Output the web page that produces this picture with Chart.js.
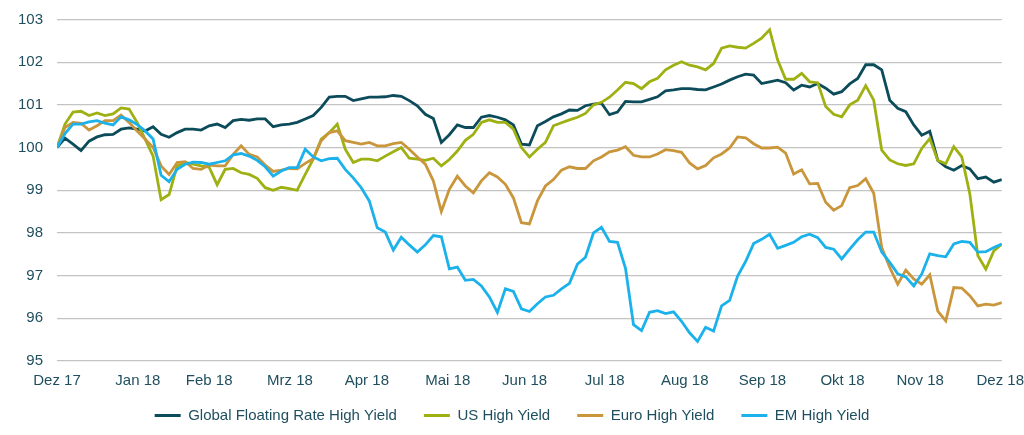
<!DOCTYPE html>
<html>
<head>
<meta charset="utf-8">
<script src="https://cdn.jsdelivr.net/npm/chart.js@4"></script>
<style>
  html, body { margin: 0; padding: 0; background: #fff; }
  #wrap { width: 1024px; height: 435px; }
</style>
</head>
<body>
<div id="wrap"><canvas id="my-chart"></canvas></div>
<script>
// tick labels on the time axis and where they sit (sample index)
const monthLabels = ['Dez 17','Jan 18','Feb 18','Mrz 18','Apr 18','Mai 18','Jun 18','Jul 18','Aug 18','Sep 18','Okt 18','Nov 18','Dez 18'];
const monthTicks = [0, 10.1, 19, 29.1, 38.7, 48.8, 58.4, 68.4, 78.4, 88.1, 98.1, 107.8, 117.8];

const seriesNames = ['Global Floating Rate High Yield', 'US High Yield', 'Euro High Yield', 'EM High Yield'];

const globalFR = [
  100.0,100.22,100.08,99.93,100.15,100.25,100.3,100.31,100.43,100.46,100.43,100.39,100.49,100.31,100.24,100.35,100.43,100.43,100.41,100.51,100.55,100.47,100.63,100.66,
  100.64,100.67,100.67,100.49,100.53,100.55,100.59,100.67,100.75,100.94,101.18,101.2,101.2,101.1,101.14,101.18,101.18,101.19,101.22,101.2,101.1,100.98,100.78,100.68,
  100.12,100.3,100.53,100.47,100.47,100.71,100.75,100.71,100.65,100.53,100.08,100.06,100.51,100.61,100.72,100.79,100.88,100.87,100.98,101.02,101.04,100.77,100.83,101.08,
  101.07,101.07,101.13,101.19,101.33,101.35,101.38,101.38,101.36,101.35,101.42,101.49,101.58,101.66,101.72,101.7,101.5,101.54,101.58,101.52,101.35,101.46,101.42,101.5,
  101.39,101.25,101.31,101.49,101.62,101.94,101.94,101.82,101.11,100.92,100.84,100.53,100.29,100.38,99.7,99.55,99.47,99.58,99.5,99.27,99.31,99.19,99.25
];
const usHY = [
  100.0,100.55,100.83,100.85,100.75,100.81,100.75,100.79,100.93,100.9,100.59,100.2,99.8,98.78,98.9,99.57,99.65,99.61,99.57,99.54,99.13,99.49,99.51,99.41,
  99.37,99.28,99.06,99.0,99.07,99.04,99.0,99.37,99.73,100.2,100.35,100.55,99.96,99.65,99.73,99.73,99.69,99.8,99.9,100.0,99.75,99.73,99.7,99.75,
  99.57,99.72,99.92,100.17,100.31,100.59,100.65,100.59,100.59,100.43,100.0,99.78,99.96,100.12,100.51,100.58,100.65,100.71,100.8,101.0,101.06,101.18,101.35,101.53,
  101.5,101.38,101.54,101.62,101.82,101.93,102.01,101.93,101.89,101.82,101.97,102.33,102.38,102.35,102.33,102.44,102.56,102.76,102.05,101.6,101.6,101.74,101.54,101.52,
  100.96,100.78,100.72,101.0,101.11,101.45,101.11,99.94,99.71,99.62,99.58,99.62,99.98,100.21,99.7,99.62,100.02,99.78,98.92,97.47,97.15,97.58,97.74
];
const euroHY = [
  100.0,100.47,100.59,100.57,100.41,100.51,100.63,100.63,100.76,100.59,100.39,100.2,100.0,99.57,99.37,99.65,99.67,99.51,99.49,99.59,99.57,99.57,99.84,100.04,
  99.84,99.78,99.59,99.44,99.47,99.51,99.5,99.63,99.74,100.16,100.35,100.39,100.16,100.12,100.08,100.12,100.04,100.04,100.09,100.12,99.96,99.78,99.61,99.22,
  98.5,99.02,99.33,99.1,98.94,99.22,99.41,99.31,99.14,98.82,98.24,98.21,98.75,99.1,99.25,99.47,99.55,99.51,99.51,99.69,99.78,99.9,99.94,100.02,
  99.82,99.78,99.78,99.85,99.95,99.93,99.89,99.64,99.5,99.58,99.76,99.85,99.99,100.25,100.23,100.09,99.99,99.99,100.01,99.87,99.38,99.48,99.15,99.16,
  98.72,98.53,98.64,99.06,99.11,99.27,98.93,97.66,97.19,96.8,97.13,96.92,96.8,97.02,96.17,95.94,96.72,96.71,96.53,96.29,96.33,96.31,96.37
];
const emHY = [
  100.0,100.33,100.55,100.55,100.6,100.63,100.57,100.53,100.72,100.65,100.54,100.39,100.2,99.35,99.2,99.49,99.61,99.66,99.65,99.61,99.65,99.69,99.83,99.86,
  99.8,99.7,99.55,99.33,99.45,99.53,99.53,99.96,99.78,99.69,99.74,99.75,99.49,99.29,99.06,98.75,98.12,98.02,97.6,97.9,97.72,97.55,97.72,97.94,
  97.91,97.16,97.2,96.89,96.91,96.76,96.5,96.14,96.69,96.63,96.22,96.16,96.34,96.5,96.54,96.69,96.82,97.27,97.43,98.0,98.13,97.8,97.78,97.17,
  95.85,95.71,96.14,96.18,96.11,96.15,95.93,95.66,95.46,95.79,95.7,96.29,96.42,96.99,97.33,97.75,97.85,97.97,97.64,97.71,97.78,97.91,97.97,97.89,
  97.66,97.62,97.39,97.62,97.84,98.02,98.02,97.55,97.31,97.04,96.97,96.76,97.04,97.51,97.47,97.44,97.74,97.8,97.78,97.55,97.56,97.66,97.74
];

const yTicks = [95, 96, 97, 98, 99, 100, 101, 102, 103];

const colors = ['#0c4c5a', '#9fb013', '#c9963c', '#1bb1ea'];
const textColor = '#1f4f5e';

Chart.defaults.font.family = '"Liberation Sans", Arial, sans-serif';
Chart.defaults.font.size = 15;
Chart.defaults.color = textColor;

const toPoints = arr => arr.map((v, i) => ({ x: i, y: v }));
const allSeries = [globalFR, usHY, euroHY, emHY];

// moves the legend row down to where the original has it
const legendNudge = {
  id: 'legendNudge',
  afterLayout(chart) {
    const lg = chart.legend;
    lg.top = 408 - lg.options.labels.padding;
    lg.bottom = 435;
  }
};

new Chart(document.getElementById('my-chart').getContext('2d'), {
  type: 'line',
  data: {
    datasets: allSeries.map((s, k) => ({
      label: seriesNames[k],
      data: toPoints(s),
      borderColor: colors[k],
      backgroundColor: colors[k],
      borderWidth: 2.8,
      pointRadius: 0,
      tension: 0,
      order: 4 - k
    }))
  },
  options: {
    responsive: true,
    maintainAspectRatio: false,
    animation: false,
    layout: { padding: { top: 19.5, right: 0, left: 0, bottom: 19 } },
    scales: {
      x: {
        type: 'linear',
        min: 0,
        max: globalFR.length - 1,
        grid: { drawOnChartArea: false, drawTicks: true, tickLength: 11, tickColor: 'rgba(0,0,0,0)' },
        border: { display: false },
        afterBuildTicks: scale => { scale.ticks = monthTicks.map(v => ({ value: v })); },
        ticks: {
          autoSkip: false,
          maxRotation: 0,
          padding: 0,
          callback: (v, idx) => monthLabels[idx]
        }
      },
      y: {
        min: 95,
        max: 103,
        afterBuildTicks: scale => { scale.ticks = yTicks.map(v => ({ value: v })); },
        afterFit: scale => { scale.width = 57; },
        grid: { color: '#c3c3c3', lineWidth: 1.3, drawTicks: true, tickLength: 14, tickColor: 'rgba(0,0,0,0)' },
        border: { display: false },
        ticks: { padding: 0 }
      }
    },
    plugins: {
      tooltip: { enabled: false },
      legend: {
        position: 'bottom',
        maxHeight: 26,
        labels: {
          boxWidth: 26,
          boxHeight: 3,
          padding: 27,
          color: textColor,
          generateLabels: chart =>
            Chart.defaults.plugins.legend.labels.generateLabels(chart)
              .sort((a, b) => a.datasetIndex - b.datasetIndex)
              .map(l => ({ ...l, lineWidth: 0, fillStyle: l.strokeStyle }))
        }
      }
    }
  },
  plugins: [legendNudge]
});
</script>
</body>
</html>
